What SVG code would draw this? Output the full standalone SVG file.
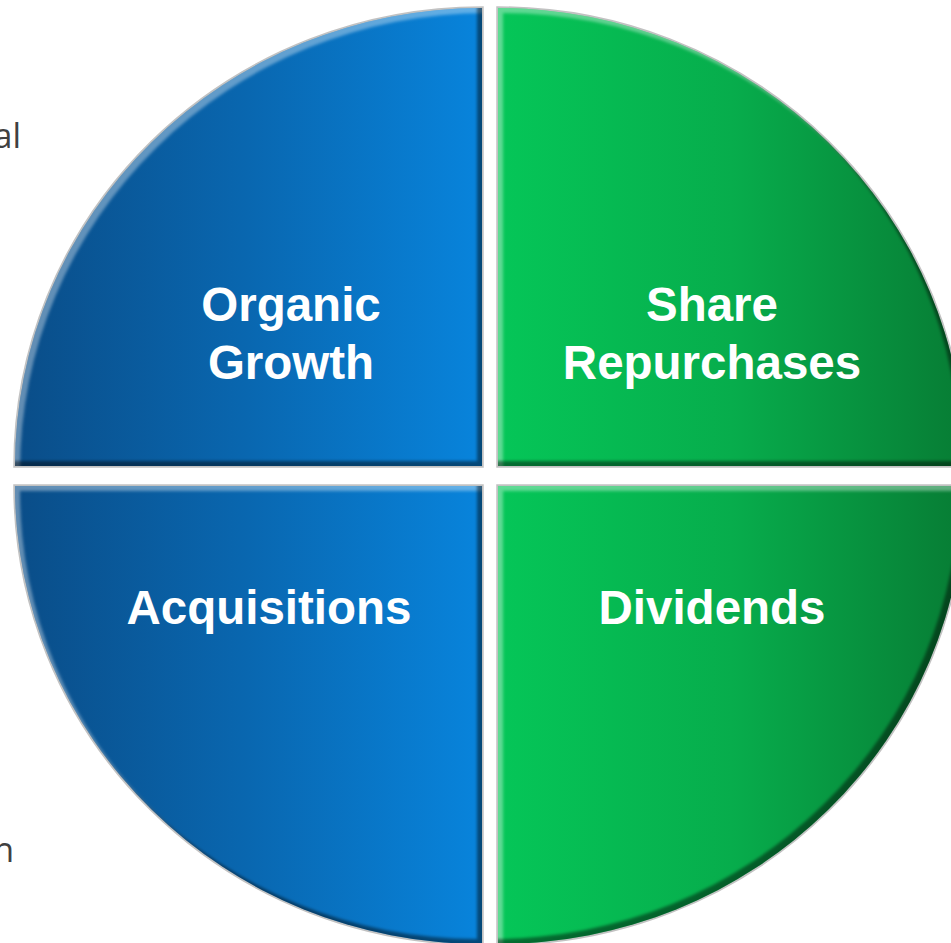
<svg xmlns="http://www.w3.org/2000/svg" xmlns:xlink="http://www.w3.org/1999/xlink" width="951" height="943" viewBox="0 0 951 943">
  <style>
    .lbl { font-family: "Liberation Sans", Arial, sans-serif; font-weight: bold; font-size: 47.5px; fill: #ffffff; text-anchor: middle; }
    .side { font-family: "Open Sans", "Liberation Sans", sans-serif; font-size: 34px; fill: #404040; text-anchor: end; }
    .halo { fill: none; stroke: #c2c2c2; stroke-width: 3.5; }
    .hi { fill: #ffffff; fill-opacity: 0.36; fill-rule: evenodd; }
    .sh { fill: #000000; fill-opacity: 0.45; fill-rule: evenodd; }
  </style>
  <defs>
    <linearGradient id="gBlue" gradientUnits="userSpaceOnUse" x1="15" y1="0" x2="482" y2="0">
      <stop offset="0" stop-color="#0a4d88"/>
      <stop offset="0.5" stop-color="#0967b0"/>
      <stop offset="1" stop-color="#0884dc"/>
    </linearGradient>
    <linearGradient id="gGreen" gradientUnits="userSpaceOnUse" x1="498" y1="0" x2="965" y2="0">
      <stop offset="0" stop-color="#05c658"/>
      <stop offset="0.5" stop-color="#07ad4c"/>
      <stop offset="1" stop-color="#077c34"/>
    </linearGradient>
    <filter id="soft" x="-10%" y="-10%" width="120%" height="120%">
      <feGaussianBlur stdDeviation="1.6"/>
    </filter>
    <path id="pTL" d="M482,466 L15,466 A467,458 0 0 1 482,8 Z"/>
    <path id="pTR" d="M498,466 L498,8 A467,458 0 0 1 965,466 Z"/>
    <path id="pBL" d="M482,486 L482,944 A467,458 0 0 1 15,486 Z"/>
    <path id="pBR" d="M498,486 L965,486 A467,458 0 0 1 498,944 Z"/>
    <path id="oTL" d="M-200,-200 H1200 V1200 H-200 Z M482,466 L15,466 A467,458 0 0 1 482,8 Z"/>
    <path id="oTR" d="M-200,-200 H1200 V1200 H-200 Z M498,466 L498,8 A467,458 0 0 1 965,466 Z"/>
    <path id="oBL" d="M-200,-200 H1200 V1200 H-200 Z M482,486 L482,944 A467,458 0 0 1 15,486 Z"/>
    <path id="oBR" d="M-200,-200 H1200 V1200 H-200 Z M498,486 L965,486 A467,458 0 0 1 498,944 Z"/>
    <clipPath id="cTL"><use xlink:href="#pTL"/></clipPath>
    <clipPath id="cTR"><use xlink:href="#pTR"/></clipPath>
    <clipPath id="cBL"><use xlink:href="#pBL"/></clipPath>
    <clipPath id="cBR"><use xlink:href="#pBR"/></clipPath>
  </defs>

  <rect x="0" y="0" width="951" height="943" fill="#ffffff"/>

  <text class="side" x="21" y="148">al</text>
  <text class="side" x="14" y="862">n</text>

  <g id="organic-growth">
    <use xlink:href="#pTL" class="halo"/>
    <use xlink:href="#pTL" fill="url(#gBlue)"/>
    <g clip-path="url(#cTL)">
      <use xlink:href="#oTL" class="hi" transform="translate(5,5)" filter="url(#soft)"/>
      <use xlink:href="#oTL" class="sh" transform="translate(-5,-5)" filter="url(#soft)"/>
    </g>
    <text class="lbl" x="291" y="321">Organic</text>
    <text class="lbl" x="291" y="379">Growth</text>
  </g>

  <g id="share-repurchases">
    <use xlink:href="#pTR" class="halo"/>
    <use xlink:href="#pTR" fill="url(#gGreen)"/>
    <g clip-path="url(#cTR)">
      <use xlink:href="#oTR" class="hi" transform="translate(5,5)" filter="url(#soft)"/>
      <use xlink:href="#oTR" class="sh" transform="translate(-5,-5)" filter="url(#soft)"/>
    </g>
    <text class="lbl" x="712" y="321">Share</text>
    <text class="lbl" x="712" y="379">Repurchases</text>
  </g>

  <g id="acquisitions">
    <use xlink:href="#pBL" class="halo"/>
    <use xlink:href="#pBL" fill="url(#gBlue)"/>
    <g clip-path="url(#cBL)">
      <use xlink:href="#oBL" class="hi" transform="translate(5,5)" filter="url(#soft)"/>
      <use xlink:href="#oBL" class="sh" transform="translate(-5,-5)" filter="url(#soft)"/>
    </g>
    <text class="lbl" x="269" y="624">Acquisitions</text>
  </g>

  <g id="dividends">
    <use xlink:href="#pBR" class="halo"/>
    <use xlink:href="#pBR" fill="url(#gGreen)"/>
    <g clip-path="url(#cBR)">
      <use xlink:href="#oBR" class="hi" transform="translate(5,5)" filter="url(#soft)"/>
      <use xlink:href="#oBR" class="sh" transform="translate(-5,-5)" filter="url(#soft)"/>
    </g>
    <text class="lbl" x="712" y="624">Dividends</text>
  </g>

  <g id="connectors"></g>
</svg>
